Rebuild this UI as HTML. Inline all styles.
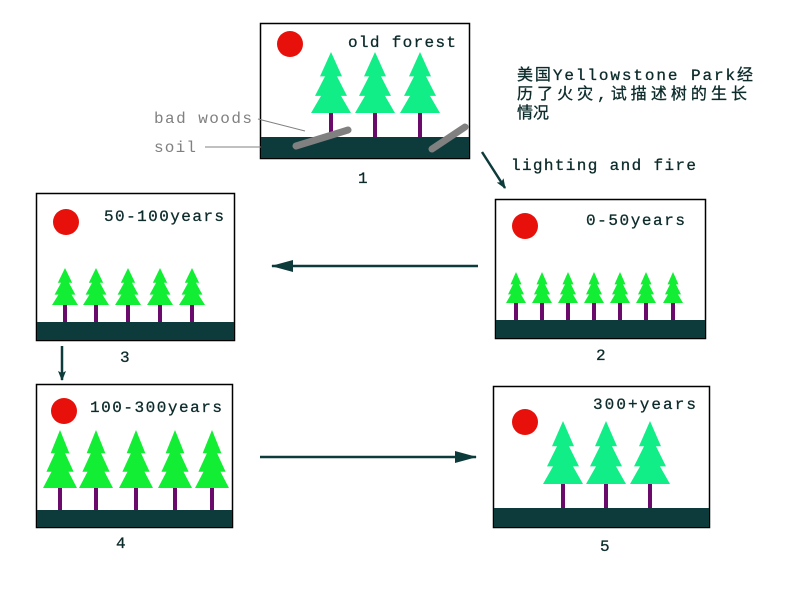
<!DOCTYPE html>
<html><head><meta charset="utf-8"><style>
body{margin:0;background:#fff;}
svg{display:block}
text{font-family:"Liberation Mono","Noto Sans CJK SC",monospace;}
</style></head><body>
<svg id="s" width="800" height="600" viewBox="0 0 800 600" xmlns="http://www.w3.org/2000/svg">
<defs><marker id="ah" markerWidth="10" markerHeight="8" refX="9" refY="4" orient="auto" markerUnits="userSpaceOnUse"><path d="M0,0 L10,4 L0,8 L2,4 Z" fill="#0d3b3b"/></marker>
<marker id="ah2" markerWidth="22" markerHeight="12" refX="21" refY="6" orient="auto" markerUnits="userSpaceOnUse"><path d="M0,0 L22,6 L0,12 Z" fill="#0d3b3b"/></marker></defs>
<g id="panels" stroke="#000" stroke-width="1.5" fill="#fff">
<rect x="260.5" y="23.5" width="209" height="135"/>
<rect x="36.5" y="193.5" width="198" height="147"/>
<rect x="495.5" y="199.5" width="210" height="139"/>
<rect x="36.5" y="384.5" width="196" height="143"/>
<rect x="493.5" y="386.5" width="216" height="141"/>
</g>
<g fill="#0d3b3b">
<rect x="261" y="137" width="208" height="21"/>
<rect x="37" y="322" width="197" height="18"/>
<rect x="496" y="320" width="209" height="18"/>
<rect x="37" y="510" width="195" height="17"/>
<rect x="494" y="508" width="215" height="19"/>
</g>
<g fill="#e8100a">
<circle cx="290" cy="44" r="13"/><circle cx="66" cy="222" r="13"/><circle cx="525" cy="226" r="13"/><circle cx="64" cy="411" r="13"/><circle cx="525" cy="422" r="13"/>
</g>
<g id="trees"></g>
<g stroke="#808080" stroke-width="7" stroke-linecap="round">
<line x1="296" y1="146" x2="348" y2="130"/>
<line x1="432" y1="149" x2="465" y2="127"/>
</g>
<g stroke="#808080" stroke-width="1">
<line x1="258" y1="119" x2="305" y2="131"/>
<line x1="205" y1="147" x2="261" y2="147"/>
</g>
<g font-size="16" fill="#0d2b2b" stroke="#0d2b2b" stroke-width="0.3">
<text x="348" y="47" textLength="108">old forest</text>
<text x="104" y="221" textLength="120">50-100years</text>
<text x="586" y="225" textLength="99">0-50years</text>
<text x="90" y="412" textLength="132">100-300years</text>
<text x="593" y="409" textLength="103">300+years</text>
<text x="511" y="170" textLength="185">lighting and fire</text>
<text x="358" y="183">1</text>
<text x="596" y="360">2</text>
<text x="120" y="362">3</text>
<text x="116" y="548">4</text>
<text x="600" y="551">5</text>
<text x="517" y="80" textLength="236">美国Yellowstone Park经</text>
<text x="517" y="99" textLength="230">历了火灾,试描述树的生长</text>
<text x="517" y="118">情况</text>
</g>
<g font-size="16" fill="#808080">
<text x="154" y="123" textLength="98">bad woods</text>
<text x="154" y="152" textLength="42">soil</text>
</g>
<g stroke="#0d3b3b" stroke-width="2.5" fill="none">
<line x1="478" y1="266" x2="272" y2="266" marker-end="url(#ah2)"/>
<line x1="260" y1="457" x2="476" y2="457" marker-end="url(#ah2)"/>
<line x1="62" y1="346" x2="62" y2="380" marker-end="url(#ah)"/>
<line x1="482" y1="152" x2="505" y2="188" marker-end="url(#ah)"/>
</g>
</svg>
<script>
var g=document.getElementById('trees'),NS='http://www.w3.org/2000/svg';
function tree(cx,t,b,w,base,col){
 var h=b-t;var p=[[cx,t],[cx+0.55*w,t+0.4*h],[cx+0.3*w,t+0.4*h],[cx+0.8*w,t+0.72*h],[cx+0.5*w,t+0.72*h],[cx+w,b],[cx-w,b],[cx-0.5*w,t+0.72*h],[cx-0.8*w,t+0.72*h],[cx-0.3*w,t+0.4*h],[cx-0.55*w,t+0.4*h]];
 var r=document.createElementNS(NS,'rect');r.setAttribute('x',cx-2);r.setAttribute('y',b);r.setAttribute('width',4);r.setAttribute('height',base-b);r.setAttribute('fill','#6a0a6a');g.appendChild(r);
 var q=document.createElementNS(NS,'polygon');q.setAttribute('points',p.map(function(a){return a.join(',')}).join(' '));q.setAttribute('fill',col);g.appendChild(q);
}
[331,375,420].forEach(function(x){tree(x,52,113,20,137,'#11ee88')});
[65,96,128,160,192].forEach(function(x){tree(x,268,305,13,322,'#11ee33')});
[516,542,568,594,620,646,673].forEach(function(x){tree(x,272,303,10,320,'#11ee33')});
[60,96,136,175,212].forEach(function(x){tree(x,430,488,17,510,'#11ee33')});
[563,606,650].forEach(function(x){tree(x,421,484,20,508,'#11ee88')});
</script>
</body></html>
